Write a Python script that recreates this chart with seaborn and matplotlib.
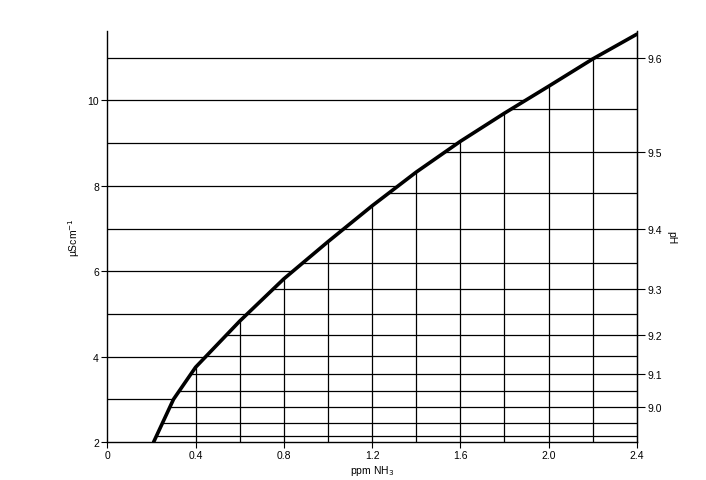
import numpy as np
import pandas as pd
import seaborn as sns
import matplotlib.pyplot as plt

# Conductivity curve
ppm_nh3 = [0.21, 0.30, 0.40, 0.60, 0.80, 1.00, 1.20, 1.40, 1.60, 1.80, 2.00, 2.20, 2.40]
conductivity = [2.0, 3.0, 3.75, 4.83, 5.82, 6.69, 7.53, 8.32, 9.04, 9.70, 10.33, 10.97, 11.55]

# grid lines
cond_levels = [3, 4, 5, 6, 7, 8, 9, 10, 11]
ppm_levels = [0.4, 0.6, 0.8, 1.0, 1.2, 1.4, 1.6, 1.8, 2.0, 2.2]

# pH scale on the right, as conductivity positions
ph_values = [9.6, 9.55, 9.5, 9.45, 9.4, 9.35, 9.3, 9.25, 9.2, 9.15, 9.1, 9.05, 9.0, 8.95, 8.9]
ph_cond = [11.0, 9.8, 8.78, 7.82, 7.0, 6.19, 5.58, 5.0, 4.5, 4.02, 3.6, 3.2, 2.83, 2.45, 2.15]
ph_labels = ["9.6", "9.5", "9.4", "9.3", "9.2", "9.1", "9.0"]

x_ticks = [0, 0.4, 0.8, 1.2, 1.6, 2.0, 2.4]
x_ticklabels = ["0", "0.4", "0.8", "1.2", "1.6", "2.0", "2.4"]
y_ticks = [2, 4, 6, 8, 10]

sns.set_style("white")
plt.rcParams["font.family"] = ["Liberation Sans", "DejaVu Sans"]
plt.rcParams["text.color"] = "black"
plt.rcParams["axes.labelcolor"] = "black"
plt.rcParams["xtick.color"] = "black"
plt.rcParams["ytick.color"] = "black"

df = pd.DataFrame({"ppm": ppm_nh3, "cond": conductivity})

fig = plt.figure(figsize=(7.06, 4.81), dpi=100)
ax = fig.add_axes([0.152, 0.079, 0.750, 0.854])
xmin, xmax = 0, 2.4
ymin, ymax = 2, 11.62

lw = 0.9
# horizontal lines from left axis to the curve
for c in cond_levels:
    xc = np.interp(c, conductivity, ppm_nh3)
    ax.plot([xmin, xc], [c, c], color="black", lw=lw)
# horizontal pH lines from curve to right axis
for c in ph_cond:
    xc = np.interp(c, conductivity, ppm_nh3)
    ax.plot([xc, xmax], [c, c], color="black", lw=lw)
# vertical lines from bottom up to the curve
for p in ppm_levels:
    yc = np.interp(p, ppm_nh3, conductivity)
    ax.plot([p, p], [ymin, yc], color="black", lw=lw)

sns.lineplot(data=df, x="ppm", y="cond", color="black", lw=2.6, ax=ax)

ax.set_xlim(xmin, xmax)
ax.set_ylim(ymin, ymax)
ax.set_xticks(x_ticks)
ax.set_xticklabels(x_ticklabels)
ax.set_yticks(y_ticks)
ax.tick_params(axis="both", direction="out", length=4, width=0.8, labelsize=7.5,
               bottom=True, left=True, pad=2)
ax.set_xlabel("ppm NH$_3$", fontsize=7.5, labelpad=2)
ax.set_ylabel("µScm$^{-1}$", fontsize=7.5, labelpad=4)
for s in ["left", "right", "bottom"]:
    ax.spines[s].set_visible(True)
    ax.spines[s].set_color("black")
    ax.spines[s].set_linewidth(1.0)
ax.spines["top"].set_visible(False)

ax2 = ax.twinx()
ax2.set_ylim(ymin, ymax)
labeled = [ph_cond[ph_values.index(float(v))] for v in ph_labels]
ax2.set_yticks(labeled)
ax2.set_yticklabels(ph_labels)
ax2.tick_params(axis="y", direction="out", length=6, width=0.8, labelsize=7.5, pad=2)
ax2.set_ylabel("pH", fontsize=7.5, rotation=270, labelpad=10)
ax2.spines["top"].set_visible(False)
ax2.spines["right"].set_color("black")
ax2.spines["left"].set_visible(False)
ax2.spines["bottom"].set_visible(False)

fig.savefig("out.png", dpi=100, facecolor="white")
